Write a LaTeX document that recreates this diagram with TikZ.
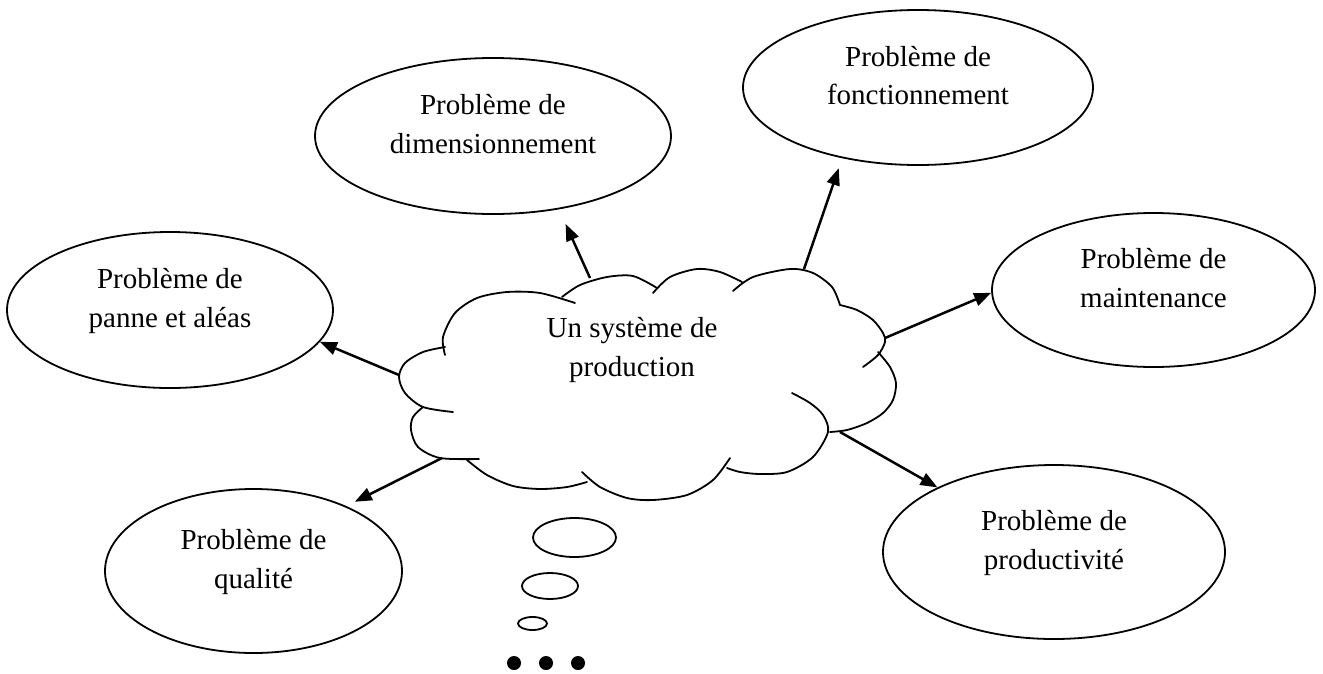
\documentclass[tikz,border=0pt]{standalone}
\usepackage{fontspec}
\setmainfont{Liberation Serif}
\usetikzlibrary{arrows.meta,shapes.geometric}
\begin{document}
\begin{tikzpicture}[x=1pt,y=-1pt,
  bubble/.style={draw,ellipse,line width=1.8pt,inner sep=0pt},
  lbl/.style={font=\fontsize{29}{38.5}\selectfont,align=center,inner sep=0pt,text depth=0pt},
  puff/.style={line width=1.8pt,line cap=round},
  arr/.style={line width=2.5pt,-{Triangle[length=17pt,width=13pt]}}]
\useasboundingbox (0,0) rectangle (1323,673);

% problem ellipses
\node[bubble,minimum width=356pt,minimum height=156pt] (dim)  at (493,136) {};
\node[bubble,minimum width=350pt,minimum height=155pt] (fonc) at (918,87.5) {};
\node[bubble,minimum width=326pt,minimum height=156pt] (pan)  at (170,310) {};
\node[bubble,minimum width=323pt,minimum height=154pt] (mai)  at (1153.5,290) {};
\node[bubble,minimum width=297pt,minimum height=164pt] (qua)  at (253.5,571) {};
\node[bubble,minimum width=342pt,minimum height=174pt] (pro)  at (1054,552) {};

\node[lbl] (tdim)  at ([yshift=12pt]dim.center)  {Problème de\\dimensionnement};
\node[lbl] (tfonc) at ([yshift=12pt]fonc.center) {Problème de\\fonctionnement};
\node[lbl] (tpan)  at ([yshift=12pt]pan.center)  {Problème de\\panne et aléas};
\node[lbl] (tmai)  at ([yshift=12pt]mai.center)  {Problème de\\maintenance};
\node[lbl] (tqua)  at ([yshift=12pt]qua.center)  {Problème de\\qualité};
\node[lbl] (tpro)  at ([yshift=12pt]pro.center)  {Problème de\\productivité};

% cloud outline, lobe by lobe
\draw[puff] plot[smooth] coordinates {(445,355) (443,337) (455,313) (477,298) (507,292) (540,293) (575,303)};
\draw[puff] plot[smooth] coordinates {(445,347) (423,352) (405,363) (399,377) (405,393) (423,407) (453,412)};
\draw[puff] plot[smooth] coordinates {(423,407) (413,417) (411,430) (418,447) (440,458) (479,459)};
\draw[puff] plot[smooth] coordinates {(467,460) (487,475) (513,486) (540,489) (567,487) (587,482)};
\draw[puff] plot[smooth] coordinates {(582,472) (600,487) (627,498) (653,500) (687,495) (713,480) (730,458)};
\draw[puff] plot[smooth] coordinates {(727,468) (740,472) (760,474) (787,472) (813,457) (828,432) (823,415) (810,403) (792,393)};
\draw[puff] plot[smooth] coordinates {(878,352) (890,367) (896,383) (893,400) (883,413) (867,423) (847,430) (830,432)};
\draw[puff] plot[smooth] coordinates {(840,305) (857,310) (873,320) (883,333) (885,342) (878,355) (863,367)};
\draw[puff] plot[smooth] coordinates {(733,291) (753,277) (790,269) (813,273) (832,287) (840,305)};
\draw[puff] plot[smooth] coordinates {(653,293) (670,277) (697,269) (720,272) (742,282)};
\draw[puff] plot[smooth] coordinates {(562,297) (580,285) (607,277) (633,276) (657,288)};

\node[lbl] (sys) at (632,347) {Un système de\\production};

% thought bubbles and dots below the cloud
\draw[line width=1.8pt] (574.5,537.5) ellipse [x radius=41.5, y radius=19.5];
\draw[line width=1.8pt] (550,586) ellipse [x radius=28, y radius=13];
\draw[line width=1.8pt] (532.5,623.5) ellipse [x radius=14.5, y radius=6.5];
\fill (514,663) circle [radius=7];
\fill (546,663) circle [radius=7];
\fill (578,663) circle [radius=7];

% arrow start points on the cloud
\coordinate (sdim)  at (590,278);
\coordinate (sfonc) at (804,269);
\coordinate (smai)  at (885,338);
\coordinate (spro)  at (840,432);
\coordinate (squa)  at (442,458);
\coordinate (span)  at (399,375);

\draw[arr,shorten >=16pt]   (sdim)  -- (dim.-48.5);
\draw[arr,shorten >=10.5pt] (sfonc) -- (fonc.-137.8);
\draw[arr]                  (smai)  -- (mai.181.4);
\draw[arr]                  (spro)  -- (pro.151.5);
\draw[arr,shorten >=9.5pt]  (squa)  -- (qua.35.5);
\draw[arr]                  (span)  -- (pan.-12.6);
\end{tikzpicture}
\end{document}
